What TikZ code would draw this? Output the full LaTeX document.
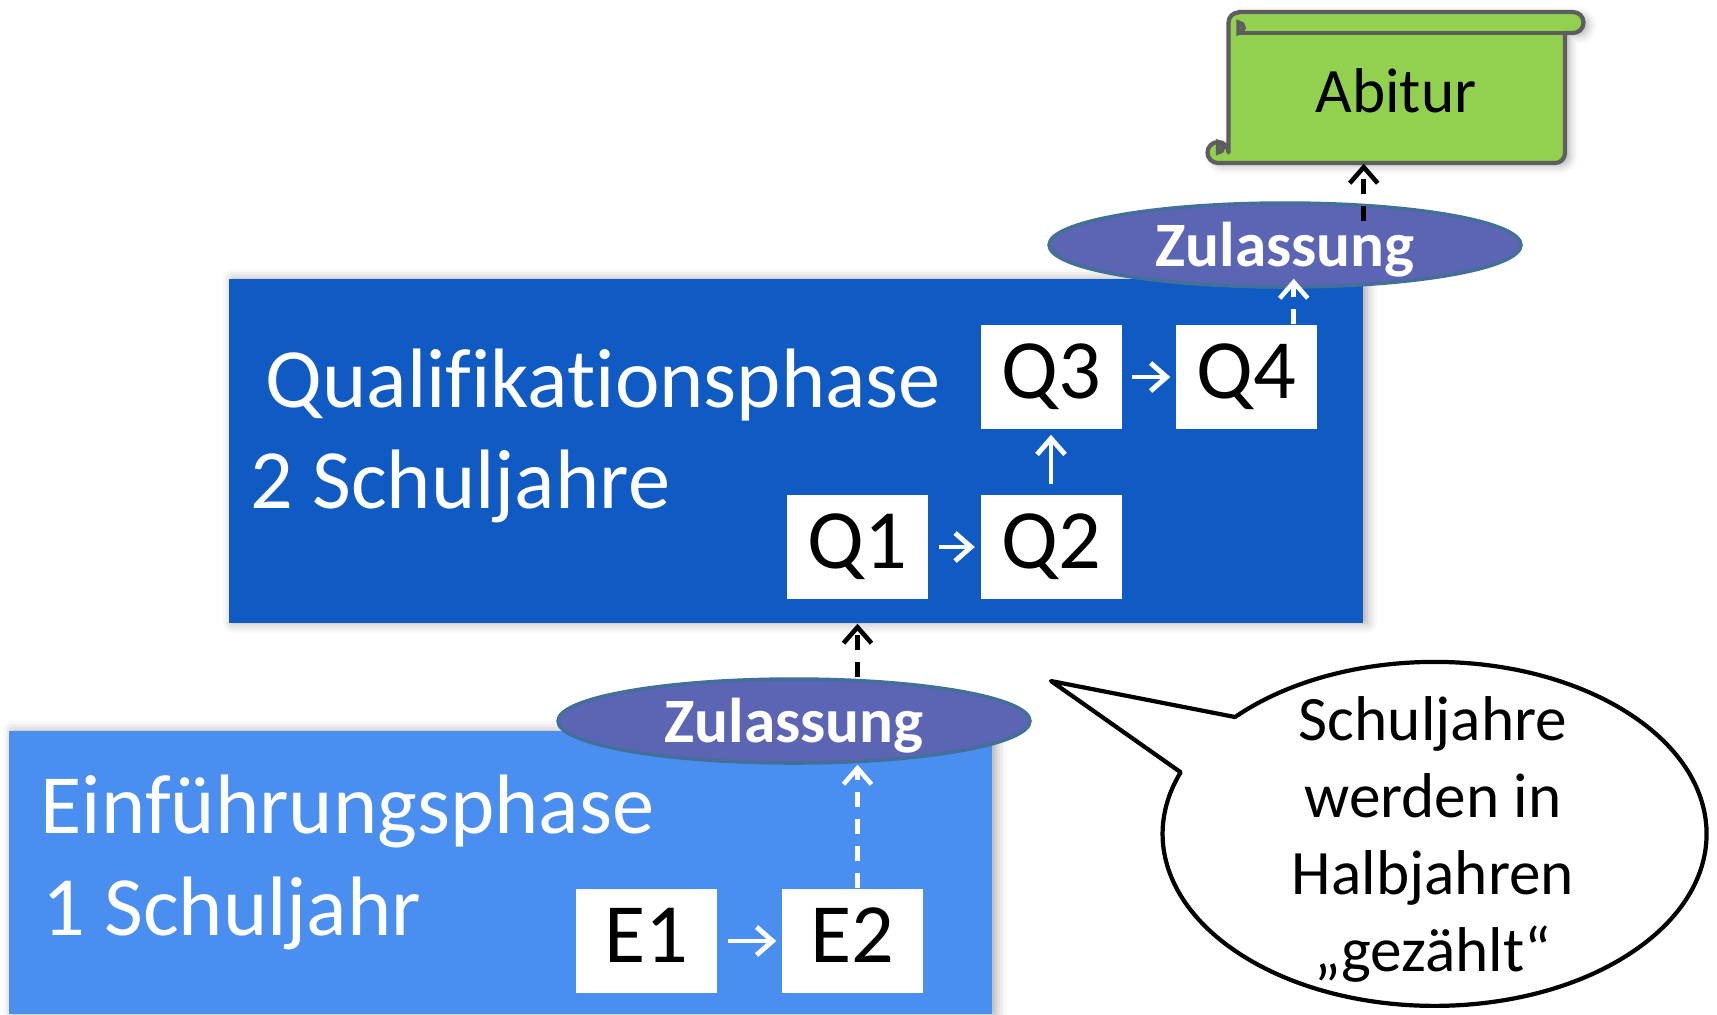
\documentclass[tikz,border=0pt]{standalone}
\usepackage{fontspec}
\setmainfont{Carlito}[Ligatures=NoCommon]
\usetikzlibrary{arrows.meta,shapes.geometric,shadows.blur}
\definecolor{qblue}{RGB}{16,90,196}
\definecolor{eblue}{RGB}{74,143,240}
\definecolor{zulfill}{RGB}{92,101,180}
\definecolor{zuledge}{RGB}{66,112,154}
\definecolor{scrollgreen}{RGB}{146,208,80}
\definecolor{scrolldark}{RGB}{112,166,60}
\definecolor{scrolledge}{RGB}{94,94,94}
\begin{document}
\begin{tikzpicture}[x=0.1mm, y=0.1mm,
	phase/.style={rectangle, inner sep=0pt, blur shadow={shadow xshift=0.4mm, shadow yshift=0mm, shadow blur radius=1mm, shadow opacity=35}},
	phasetext/.style={anchor=base west, inner sep=0pt, text=white, font=\fontsize{24}{29}\selectfont},
	semester/.style={rectangle, fill=white, inner sep=0pt, minimum width=14.1mm, minimum height=10.4mm, text height=4.2mm, text depth=0pt, font=\fontsize{24}{29}\selectfont},
	zul/.style={ellipse, fill=zulfill, draw=zuledge, line width=1pt, inner sep=0pt, minimum width=47.2mm, minimum height=8.4mm, text height=4.6mm, text depth=0.4mm, text=white, font=\fontsize{18}{22}\selectfont\bfseries},
	whitearrow/.style={white, line width=1.4pt, -{Straight Barb[length=1.6mm,width=2.8mm]}, shorten <=1mm, shorten >=0.5mm},
	dasharrow/.style={line width=1.3pt, dash pattern=on 1.5mm off 1.2mm, -{Straight Barb[length=1.6mm,width=2.8mm]}}]
	\useasboundingbox (0,0) rectangle (1717,-1014);
	\node[phase, fill=qblue, minimum width=113.4mm, minimum height=34.4mm] (qbox) at (796,-451) {};
	\node[phase, fill=eblue, minimum width=98.3mm, minimum height=28.3mm] (ebox) at (500.5,-872.5) {};
	\node[phasetext] (qname) at (265,-407) {Qualifikationsphase};
	\node[phasetext] (qyears) at (250,-508) {2 Schuljahre};
	\node[phasetext] (ename) at (40,-833) {Einführungsphase};
	\node[phasetext] (eyears) at (42,-935) {1 Schuljahr};
	\node[semester] (Q1) at (857.5,-547) {Q1};
	\node[semester] (Q2) at (1051,-547) {Q2};
	\node[semester] (Q3) at (1051,-377) {Q3};
	\node[semester] (Q4) at (1246.5,-377) {Q4};
	\node[semester] (E1) at (646.5,-941) {E1};
	\node[semester] (E2) at (852.5,-941) {E2};
	\draw[whitearrow] (E1) -- (E2);
	\draw[whitearrow] (Q1) -- (Q2);
	\draw[whitearrow] (Q2) -- (Q3);
	\draw[whitearrow] (Q3) -- (Q4);
	\draw[scrolledge, line width=1.2pt, fill=scrollgreen, line join=round, blur shadow={shadow xshift=0.5mm, shadow yshift=-0.3mm, shadow blur radius=0.8mm, shadow opacity=30}]
		(1238.5,-12) -- (1573,-12) arc[start angle=90, end angle=-90, radius=10.5] -- (1565,-33) -- (1565,-153)
		arc[start angle=0, end angle=-90, radius=10] -- (1218,-163) arc[start angle=-90, end angle=-360, radius=10.5]
		-- (1228.5,-22.5) arc[start angle=180, end angle=90, radius=10] -- cycle;
	\draw[scrolledge, line width=1.2pt] (1238.5,-33) -- (1565,-33);
	\draw[scrolledge, line width=1.2pt, fill=scrolldark] (1238.5,-33) arc[start angle=-90, end angle=90, radius=5.25] -- cycle;
	\draw[scrolledge, line width=1.2pt, fill=scrolldark] (1218,-142) arc[start angle=90, end angle=-90, radius=5.25] -- cycle;
	\node[inner sep=0pt, minimum width=33.7mm, minimum height=14.2mm, text height=4mm, text depth=0pt, font=\fontsize{18}{22}\selectfont] (abitur) at (1396,-92) {Abitur};
	\node[zul] (zul1) at (794,-721) {Zulassung};
	\node[zul] (zul2) at (1285,-245) {Zulassung};
	\draw[dasharrow, white] (E2.north -| Q1) -- (zul1.south -| Q1);
	\draw[dasharrow] (zul1.north -| Q1) -- (qbox.south -| Q1);
	\coordinate (q4up) at ([xshift=-2.4mm]Q4.north east);
	\coordinate (z2foot) at (zul2.south -| q4up);
	\draw[dasharrow, white] (q4up) -- ([yshift=1mm]z2foot);
	\coordinate (z2top) at (zul2.north -| qbox.east);
	\draw[dasharrow] ([yshift=-2mm]z2top) -- (abitur.south -| qbox.east);
	\draw[line width=1.2pt, line join=round, fill=white] (1051,-681) -- (1235,-717)
		arc[start angle=137.2, end angle=-201, x radius=272, y radius=172] -- cycle;
	\node[align=center, font=\fontsize{18}{21.9}\selectfont] (note) at (1433,-839) {Schuljahre\\werden in\\Halbjahren\\„gezählt“};
\end{tikzpicture}
\end{document}
